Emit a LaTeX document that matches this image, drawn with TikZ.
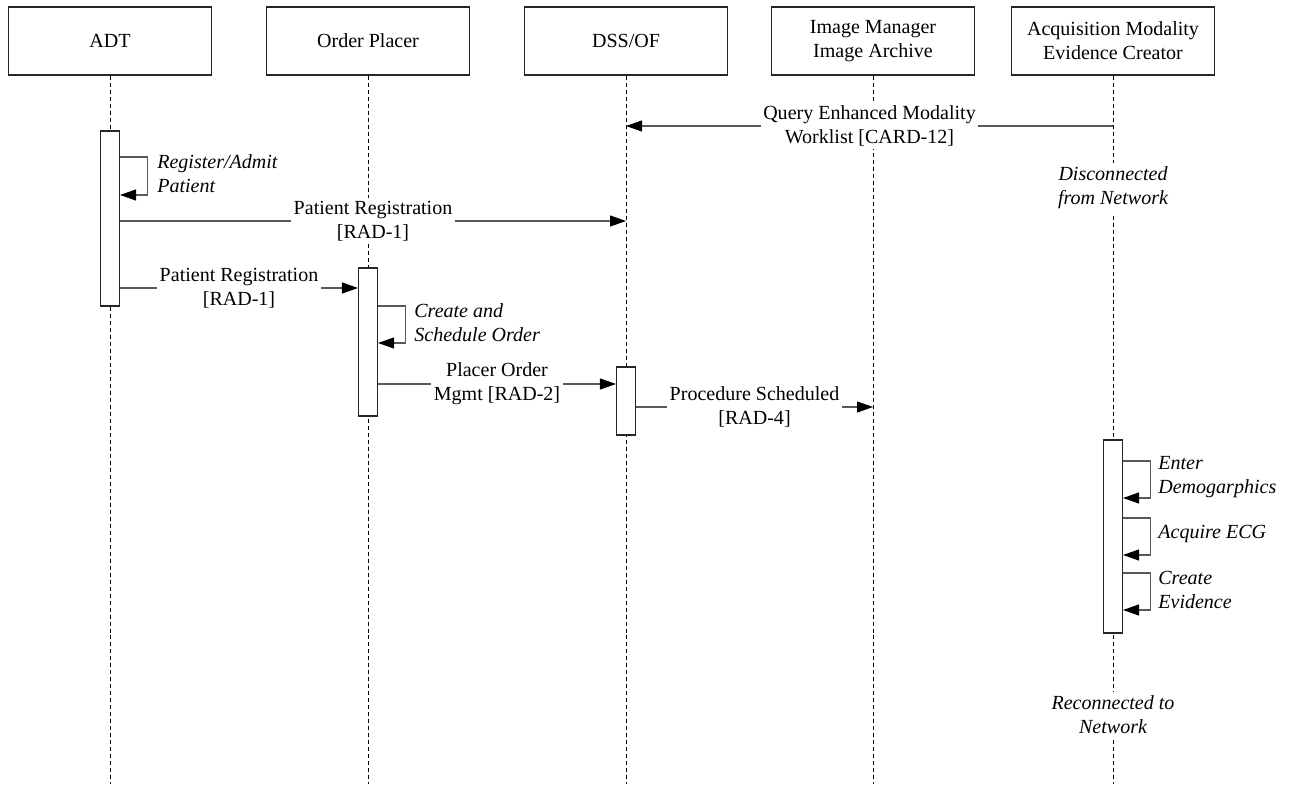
\documentclass[tikz,border=0pt]{standalone}
\usepackage{fontspec}
\setmainfont{Liberation Serif}
\usetikzlibrary{arrows.meta,calc}
\newcommand{\diagsize}{\fontsize{11.4pt}{13.7pt}\selectfont}

\tikzset{
  actor/.style={draw=black!85, line width=0.7pt, fill=white, align=center,
    minimum width=4.06cm, minimum height=1.36cm},
  life/.style={black, line width=0.5pt, dash pattern=on 0.08cm off 0.06cm},
  bar/.style={draw=black!85, line width=0.6pt, fill=white, inner sep=0pt,
    minimum width=0.38cm},
  msg/.style={black!65, line width=0.6pt,
    -{Triangle[length=0.32cm, width=0.22cm, color=black]}},
  lbl/.style={fill=white, align=center, inner sep=1.5pt, text=black},
  note/.style={align=left, inner sep=0pt, font=\diagsize\itshape}
}

\begin{document}
\begin{tikzpicture}[x=0.02cm, y=-0.02cm, font=\diagsize]
			%%%%% START %%%%%
			\useasboundingbox (0,0) rectangle (1297,784);
			\coordinate (bottom) at (0,784);
			
			% actors
			\node[actor] (adt) at (110,41) {ADT};
			\node[actor] (op) at (368,41) {Order Placer};
			\node[actor] (dss) at (626,41) {DSS/OF};
			\node[actor] (im) at (873,41) {Image Manager\\Image Archive};
			\node[actor] (am) at (1113,41) {Acquisition Modality\\Evidence Creator};
			
			% lifelines
			\foreach \n in {adt,op,dss,im,am}
				\draw[life] (\n.south) -- (\n.south |- bottom);
			
			% activation bars
			\node[bar, minimum height=3.5cm] (adtbar) at (110,218.5) {};
			\node[bar, minimum height=2.96cm] (opbar) at (368,342) {};
			\node[bar, minimum height=1.36cm] (dssbar) at (626,401) {};
			\node[bar, minimum height=3.86cm] (ambar) at (1113,536.5) {};
			
			% messages
			\draw[msg] (am |- 0,126) -- (dss |- 0,126)
				node[lbl, midway] {Query Enhanced Modality\\Worklist [CARD-12]};
			\draw[msg] (adtbar.east |- 0,221) -- (dss |- 0,221)
				node[lbl, midway] {Patient Registration\\{[RAD-1]}};
			\draw[msg] (adtbar.east |- 0,288) -- (opbar.west |- 0,288)
				node[lbl, midway] {Patient Registration\\{[RAD-1]}};
			\draw[msg] (opbar.east |- 0,384) -- (dssbar.west |- 0,384)
				node[lbl, midway] {Placer Order\\Mgmt [RAD-2]};
			\draw[msg] (dssbar.east |- 0,407) -- (im |- 0,407)
				node[lbl, midway] {Procedure Scheduled\\{[RAD-4]}};
			
			% self calls
			\draw[msg] (adtbar.east |- 0,157) -- ++(27,0) |- (adtbar.east |- 0,195);
			\node[note, anchor=west] (regnote) at (157,174) {Register/Admit\\Patient};
			
			\draw[msg] (opbar.east |- 0,306) -- ++(27,0) |- (opbar.east |- 0,343);
			\node[note, anchor=west] (ordernote) at (414,323) {Create and\\Schedule Order};
			
			\foreach \a/\b/\c/\t [count=\i] in {461/498/477/{Enter\\Demogarphics},
					518/555/534/{Acquire ECG}, 573/610/590/{Create\\Evidence}}{
				\draw[msg] (ambar.east |- 0,\a) -- ++(27,0) |- (ambar.east |- 0,\b);
				\node[note, anchor=west] (amnote\i) at (1158,\c) {\t};
			}
			
			% network state
			\node[note, align=center, fill=white, inner sep=2pt] (disc) at (1113,188)
				{Disconnected\\from Network};
			\node[note, align=center, fill=white, inner sep=2pt] (reconn) at (1113,715)
				{Reconnected to\\Network};
			%%%%% END %%%%%
\end{tikzpicture}
\end{document}
